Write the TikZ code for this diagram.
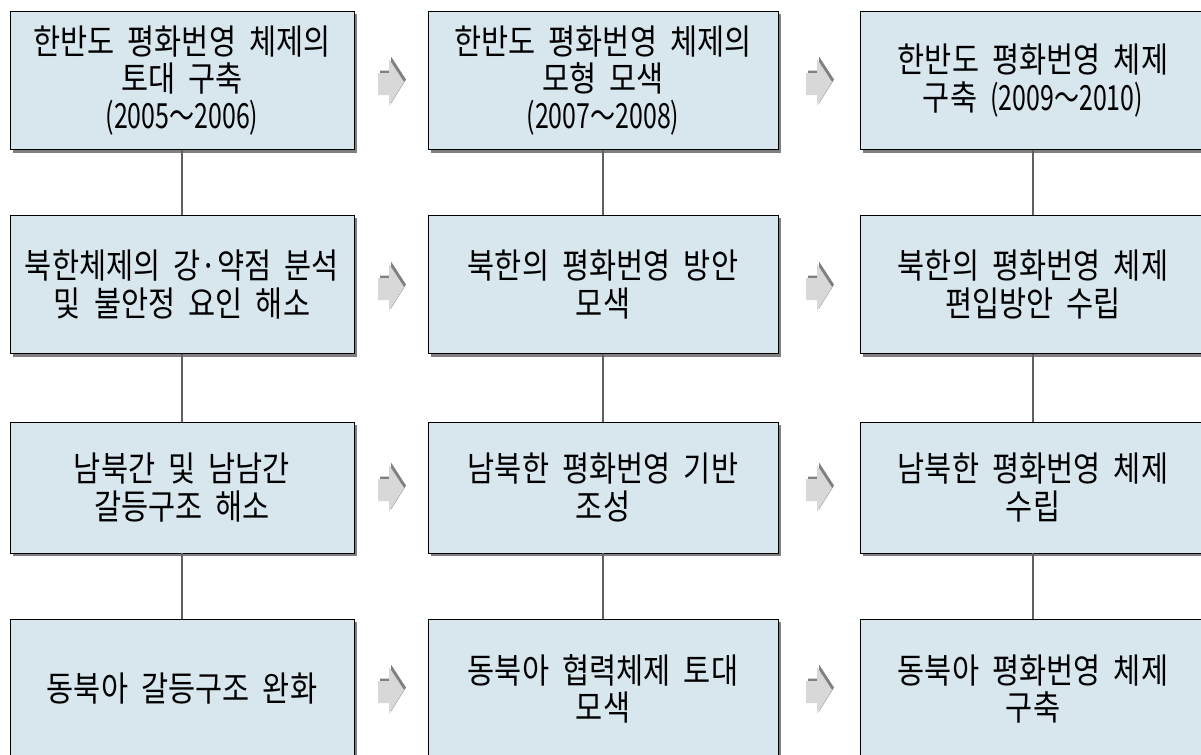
\documentclass[tikz,border=0pt]{standalone}
\usepackage{fontspec}
\newfontfamily\korfont[FakeStretch=0.85,WordSpace=2]{Noto Sans CJK KR}
\newfontfamily\yearfont[FakeStretch=0.72]{Noto Sans CJK KR}
\usetikzlibrary{shadows}
\definecolor{stagefill}{RGB}{216,230,238}
\definecolor{stageshadow}{RGB}{128,128,128}
\definecolor{arrowfill}{RGB}{216,216,216}
\definecolor{linkgray}{RGB}{96,96,96}
\tikzset{
  stagebox/.style={draw=black, line width=0.6pt, fill=stagefill, inner sep=0pt, align=center,
    minimum width=259pt, minimum height=104pt,
    font=\korfont\fontsize{26}{28}\selectfont,
    drop shadow={shadow xshift=2.2pt, shadow yshift=-2.2pt, fill=stageshadow, opacity=1}},
  stagelink/.style={draw=linkgray, line width=1.1pt},
  pics/stagearrow/.style={code={
    \fill[stageshadow] (-11,-10.5) -- (0,-10.5) -- (0,-21.5) -- (15,2.5) -- (0,25.5) -- (0,11.5) -- (-11,11.5) -- cycle;
    \fill[arrowfill] (-13,-13) -- (-2,-13) -- (-2,-24) -- (13,0) -- (-2,23) -- (-2,9) -- (-13,9) -- cycle;
  }}
}
\begin{document}
\begin{tikzpicture}[x=0.75pt,y=0.75pt,yscale=-1,xscale=1]
    \useasboundingbox (0,0) rectangle (1201,754);

    % Stage Nodes, row 1
    \node[stagebox, minimum width=258pt] (r1c1) at (182,80.5) {한반도 평화번영 체제의\\토대 구축\\{\yearfont(2005～2006)}};
    \node[stagebox, minimum width=262.5pt] (r1c2) at (603,80.5) {한반도 평화번영 체제의\\모형 모색\\{\yearfont(2007～2008)}};
    \node[stagebox] (r1c3) at (1033,80.5) {한반도 평화번영 체제\\구축 {\yearfont(2009～2010)}};
    % Stage Nodes, row 2
    \node[stagebox, minimum width=258pt] (r2c1) at (182,284.5) {북한체제의 강·약점 분석\\및 불안정 요인 해소};
    \node[stagebox, minimum width=262.5pt] (r2c2) at (603,284.5) {북한의 평화번영 방안\\모색};
    \node[stagebox] (r2c3) at (1033,284.5) {북한의 평화번영 체제\\편입방안 수립};
    % Stage Nodes, row 3
    \node[stagebox, minimum width=258pt, minimum height=98.25pt] (r3c1) at (182,487.5) {남북간 및 남남간\\갈등구조 해소};
    \node[stagebox, minimum width=262.5pt, minimum height=98.25pt] (r3c2) at (603,487.5) {남북한 평화번영 기반\\조성};
    \node[stagebox, minimum height=98.25pt] (r3c3) at (1033,487.5) {남북한 평화번영 체제\\수립};
    % Stage Nodes, row 4
    \node[stagebox, minimum width=258pt, minimum height=105pt] (r4c1) at (182,689) {동북아 갈등구조 완화};
    \node[stagebox, minimum width=262.5pt, minimum height=105pt] (r4c2) at (603,689) {동북아 협력체제 토대\\모색};
    \node[stagebox, minimum height=105pt] (r4c3) at (1033,689) {동북아 평화번영 체제\\구축};

    %Straight Lines
    \draw[stagelink] (r1c1) -- (r2c1);
    \draw[stagelink] (r2c1) -- (r3c1);
    \draw[stagelink] (r3c1) -- (r4c1);
    \draw[stagelink] (r1c2) -- (r2c2);
    \draw[stagelink] (r2c2) -- (r3c2);
    \draw[stagelink] (r3c2) -- (r4c2);
    \draw[stagelink] (r1c3) -- (r2c3);
    \draw[stagelink] (r2c3) -- (r3c3);
    \draw[stagelink] (r3c3) -- (r4c3);

    %Shape: Right Arrow
    \pic at (391,82) {stagearrow};
    \pic at (819,82) {stagearrow};
    \pic at (391,287) {stagearrow};
    \pic at (819,287) {stagearrow};
    \pic at (391,488) {stagearrow};
    \pic at (819,488) {stagearrow};
    \pic at (391,690) {stagearrow};
    \pic at (819,690) {stagearrow};
\end{tikzpicture}
\end{document}
